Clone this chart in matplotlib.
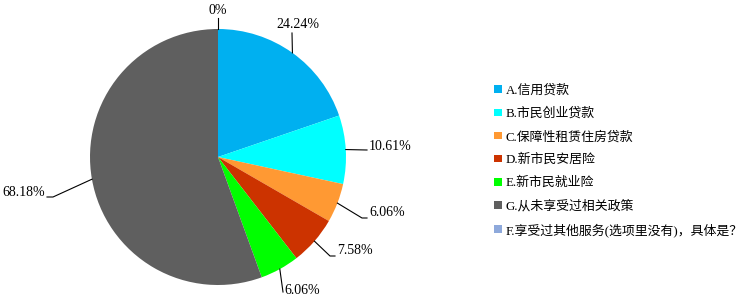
import matplotlib.pyplot as plt
import numpy as np

plt.rcParams['font.family'] = ['Liberation Serif', 'Noto Sans CJK SC', 'DejaVu Sans']

categories = ['A.信用贷款', 'B.市民创业贷款', 'C.保障性租赁住房贷款', 'D.新市民安居险',
              'E.新市民就业险', 'G.从未享受过相关政策', 'F.享受过其他服务(选项里没有)，具体是？']
values = [24.24, 10.61, 6.06, 7.58, 6.06, 68.18, 0.0]
labels = ['24.24%', '10.61%', '6.06%', '7.58%', '6.06%', '68.18%', '0%']
colors = ['#00B0F0', '#00FFFF', '#FF9933', '#CC3300', '#00FF00', '#5F5F5F', '#8EA9DB']

W, H = 749, 302
fig = plt.figure(figsize=(W / 100, H / 100), dpi=100)
ax = fig.add_axes([0, 0, 1, 1])

cx, cy, r = 218, H - 157, 128
wedges, _ = ax.pie(values, colors=colors, startangle=90, counterclock=False,
                   center=(cx, cy), radius=r, wedgeprops=dict(linewidth=0))
ax.set_xlim(0, W)
ax.set_ylim(0, H)
ax.set_aspect('equal')
ax.axis('off')

# leader line path (after the anchor on the rim) and text spot, in pixels from top-left
leaders = [
    ([(292, 33)], (298, 25), 'center'),
    ([(367, 150)], (369, 146), 'left'),
    ([(362, 218), (367, 218)], (369, 213), 'left'),
    ([(330, 256), (335, 256)], (337, 251), 'left'),
    ([(283, 292)], (284, 290), 'left'),
    ([(53, 197), (47, 197)], (45, 192), 'right'),
    ([(218, 18)], (218, 11), 'center'),
]

for w, lab, (pts, tpos, ha) in zip(wedges, labels, leaders):
    mid = np.deg2rad((w.theta1 + w.theta2) / 2)
    ax0 = cx + r * np.cos(mid)
    ay0 = cy + r * np.sin(mid)
    xs = [ax0] + [p[0] for p in pts]
    ys = [ay0] + [H - p[1] for p in pts]
    ax.plot(xs, ys, color='black', lw=0.8)
    ax.text(tpos[0], H - tpos[1], lab, ha=ha, va='center', fontsize=10)

leg = fig.legend(wedges, categories, loc='upper left',
                 bbox_to_anchor=(488 / W, 1 - 78 / H), frameon=False,
                 handlelength=0.55, handleheight=0.55, handletextpad=0.3,
                 labelspacing=0.82, fontsize=9.3, borderpad=0)

fig.savefig('out.png', dpi=100)
